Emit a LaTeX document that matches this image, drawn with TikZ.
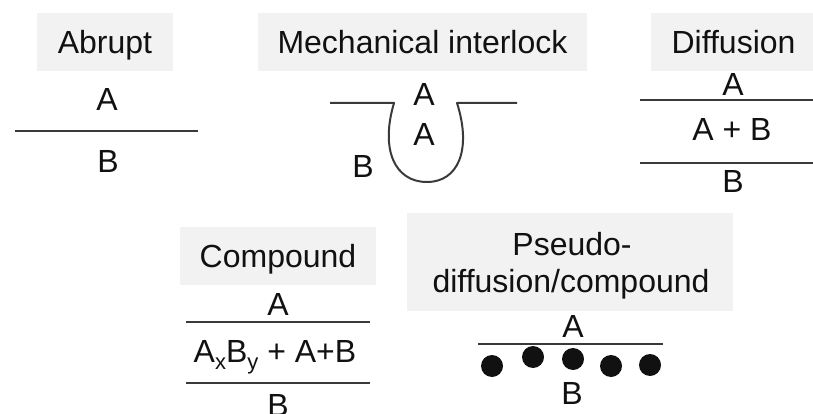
\documentclass[tikz,border=0pt]{standalone}
\usepackage{fontspec}
\setmainfont{Liberation Sans}
\definecolor{boxgray}{HTML}{F2F2F2}
\definecolor{linegray}{HTML}{3A3A3A}
\definecolor{txt}{HTML}{111111}
\newcommand{\mysub}[1]{\raisebox{-7pt}{\fontsize{22pt}{22pt}\selectfont #1}}
\begin{document}
\begin{tikzpicture}[x=1pt,y=-1pt,
  tbox/.style={fill=boxgray, draw=none, inner sep=0pt, text=txt,
     font=\fontsize{32pt}{37pt}\selectfont, text height=23pt, text depth=0pt},
  pbox/.style={fill=boxgray, draw=none, inner sep=0pt},
  ttl/.style={inner sep=0pt, anchor=base, text=txt, font=\fontsize{32pt}{37pt}\selectfont},
  lbl/.style={inner sep=0pt, anchor=base, text=txt, font=\fontsize{32pt}{37pt}\selectfont},
  iface/.style={draw=linegray, line width=2pt},
  dot/.style={circle, fill=txt, draw=none, minimum size=22pt, inner sep=0pt}]
\useasboundingbox (0,0) rectangle (813,414);

% ---- Abrupt
\node[tbox, minimum width=136pt, minimum height=58pt] (abbox) at (105,42) {Abrupt};
\node[lbl] (abA) at (107,111) {A};
\node[lbl] (abB) at (108,173) {B};
\coordinate (abL) at (15,131);
\coordinate (abR) at (198,131);
\draw[iface] (abL) -- (abR);

% ---- Mechanical interlock
\node[tbox, minimum width=329pt, minimum height=58pt] (mebox) at (422.5,42) {Mechanical interlock};
\node[lbl] (meA1) at (424,106) {A};
\node[lbl] (meA2) at (424,146) {A};
\node[lbl] (meB) at (363,178) {B};
\coordinate (meL0) at (330,103);
\coordinate (meL1) at (394,103);
\coordinate (meR1) at (457,103);
\coordinate (meR0) at (517,103);
\coordinate (meBot) at (427,182);
\draw[iface, line join=round] (meL0) -- (meL1)
   .. controls (380,150) and (395,182) .. (meBot)
   .. controls (458,182) and (472,150) .. (meR1) -- (meR0);

% ---- Diffusion
\node[tbox, minimum width=165pt, minimum height=58pt] (dibox) at (733.5,42) {Diffusion};
\node[lbl] (diA) at (733,96) {A};
\node[lbl] (diAB) at (732,141) {A + B};
\node[lbl] (diB) at (733,193) {B};
\coordinate (di1L) at (640,100);
\coordinate (di1R) at (813,100);
\coordinate (di2L) at (640,163);
\coordinate (di2R) at (813,163);
\draw[iface] (di1L) -- (di1R);
\draw[iface] (di2L) -- (di2R);

% ---- Compound
\node[tbox, minimum width=196pt, minimum height=58pt] (cobox) at (278,256) {Compound};
\node[lbl] (coA) at (278,315) {A};
\node[lbl] (coAB) at (275,362) {A\mysub{x}B\mysub{y} + A+B};
\node[lbl] (coB) at (278,416) {B};
\coordinate (co1L) at (186,322);
\coordinate (co1R) at (370,322);
\coordinate (co2L) at (186,383);
\coordinate (co2R) at (370,383);
\draw[iface] (co1L) -- (co1R);
\draw[iface] (co2L) -- (co2R);

% ---- Pseudo-diffusion/compound
\node[pbox, minimum width=326pt, minimum height=98pt] (psbox) at (570,262) {};
\node[ttl] (pst1) at (572,255) {Pseudo-};
\node[ttl] (pst2) at (571,292) {diffusion/compound};
\node[lbl] (psA) at (573,337) {A};
\node[lbl] (psB) at (572,404) {B};
\coordinate (psL) at (478,344);
\coordinate (psR) at (663,344);
\draw[iface] (psL) -- (psR);
\node[dot] (d1) at (492,366) {};
\node[dot] (d2) at (533,357) {};
\node[dot] (d3) at (573,359) {};
\node[dot] (d4) at (611,366) {};
\node[dot] (d5) at (650,365) {};
\end{tikzpicture}
\end{document}
